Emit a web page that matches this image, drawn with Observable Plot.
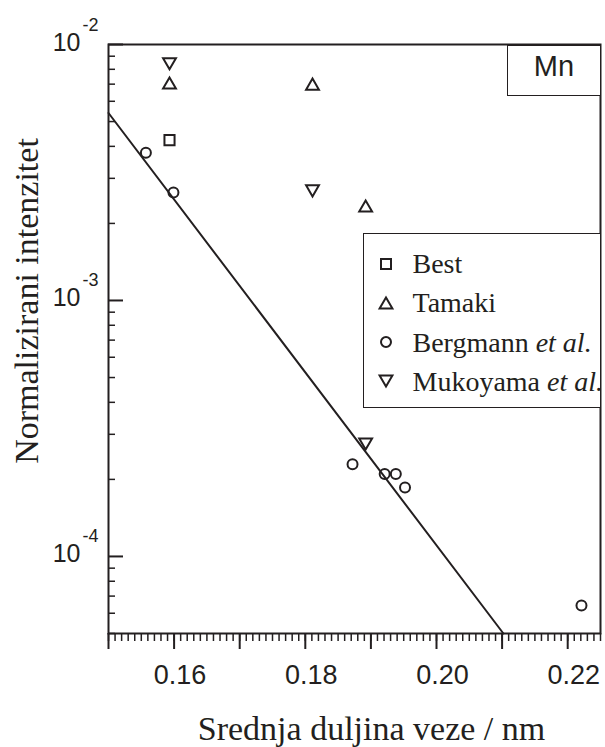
<!DOCTYPE html>
<html><head><meta charset="utf-8">
<script src="https://cdn.jsdelivr.net/npm/d3@7"></script>
<script src="https://cdn.jsdelivr.net/npm/@observablehq/plot@0.6"></script>
<style>
html,body{margin:0;padding:0;background:#fff;}
#wrap{position:relative;width:605px;height:747px;overflow:hidden;}
#wrap svg.plotsvg{position:absolute;left:0;top:0;}
.box{position:absolute;box-sizing:border-box;border:1.5px solid #231f20;background:#fff;color:#231f20;}
</style></head><body><div id="wrap"></div>
<script>
const ink = "#231f20";

// ---- data ----
const bestX = [0.1593];
const bestY = [4.23e-3];
const tamakiX = [0.1593, 0.1811, 0.1892];
const tamakiY = [7.07e-3, 7.0e-3, 2.34e-3];
const bergmannX = [0.1557, 0.1599, 0.1872, 0.1921, 0.1938, 0.1952, 0.2221];
const bergmannY = [3.78e-3, 2.64e-3, 2.29e-4, 2.10e-4, 2.10e-4, 1.86e-4, 6.43e-5];
const mukoyamaX = [0.1593, 0.1811, 0.1892];
const mukoyamaY = [8.41e-3, 2.68e-3, 2.75e-4];
const fitX = [0.15, 0.2102];
const fitY = [5.4e-3, 5.0e-5];

// ---- axes / labels ----
const xDomain = [0.15, 0.225];
const yDomain = [5e-5, 1e-2];
const xTickValues = [0.16, 0.18, 0.20, 0.22];
const xTickLabels = ["0.16", "0.18", "0.20", "0.22"];
const xMajorTicks = [0.15, 0.16, 0.17, 0.18, 0.19, 0.20, 0.21, 0.22];
const xMinorTicks = d3.range(150, 226).map(k => k / 1000);
const yTickValues = [1e-2, 1e-3, 1e-4];
const yTickBase = ["10", "10", "10"];
const yTickExp = ["-2", "-3", "-4"];
const yMinorTicks = [5e-5, 6e-5, 7e-5, 8e-5, 9e-5,
  2e-4, 3e-4, 4e-4, 5e-4, 6e-4, 7e-4, 8e-4, 9e-4,
  2e-3, 3e-3, 4e-3, 5e-3, 6e-3, 7e-3, 8e-3, 9e-3];
const xTitle = "Srednja duljina veze / nm";
const yTitle = "Normalizirani intenzitet";
const elementLabel = "Mn";
const legendMain = ["Best", "Tamaki", "Bergmann", "Mukoyama"];
const legendItalic = ["", "", "et al.", "et al."];

// ---- symbols (bbox-centred triangles) ----
const triUp = {draw(ctx, size) {
  const s = Math.sqrt(size) * 1.45, h = s * 0.866;
  ctx.moveTo(0, -h / 2); ctx.lineTo(s / 2, h / 2); ctx.lineTo(-s / 2, h / 2); ctx.closePath();
}};
const triDown = {draw(ctx, size) {
  const s = Math.sqrt(size) * 1.45, h = s * 0.866;
  ctx.moveTo(0, h / 2); ctx.lineTo(s / 2, -h / 2); ctx.lineTo(-s / 2, -h / 2); ctx.closePath();
}};
const legendSymbols = [d3.symbolSquare, triUp, d3.symbolCircle, triDown];
const legendSizes = [100, 78.5, 78.5, 78.5];

const rows = (xs, ys) => xs.map((x, i) => ({x, y: ys[i]}));
const serif = "'Liberation Serif', 'Times New Roman', Times, serif";
const dotOpts = {x: "x", y: "y", stroke: ink, strokeWidth: 2, fill: "none"};

const chart = Plot.plot({
  width: 605, height: 747,
  marginLeft: 108, marginRight: 5, marginTop: 44, marginBottom: 114,
  style: {background: "transparent", color: ink, fontFamily: "'Liberation Sans', Arial, sans-serif", overflow: "visible"},
  x: {type: "linear", domain: xDomain},
  y: {type: "log", domain: yDomain},
  marks: [
    Plot.line(rows(fitX, fitY), {x: "x", y: "y", stroke: ink, strokeWidth: 2}),
    Plot.dot(rows(bestX, bestY), {...dotOpts, symbol: "square", r: 5.7}),
    Plot.dot(rows(tamakiX, tamakiY), {...dotOpts, symbol: triUp, r: 5}),
    Plot.dot(rows(bergmannX, bergmannY), {...dotOpts, symbol: "circle", r: 5}),
    Plot.dot(rows(mukoyamaX, mukoyamaY), {...dotOpts, symbol: triDown, r: 5}),
    Plot.frame({stroke: ink, strokeWidth: 2}),
    Plot.axisX(xMajorTicks, {anchor: "bottom", tickSize: 16, fill: "none", stroke: ink, strokeWidth: 2}),
    Plot.axisX(xMinorTicks, {anchor: "bottom", tickSize: 8, fill: "none", stroke: ink, strokeWidth: 1.5}),
    Plot.axisY(yTickValues, {anchor: "left", tickSize: 15, dx: 15, fill: "none", stroke: ink, strokeWidth: 2}),
    Plot.axisY(yMinorTicks, {anchor: "left", tickSize: 7, dx: 7, fill: "none", stroke: ink, strokeWidth: 1.5}),
    Plot.text(xTickValues, {x: d => d, text: (d, i) => xTickLabels[i], frameAnchor: "bottom", dx: 6, dy: 50, lineAnchor: "bottom", fontSize: 27, fill: ink}),
    Plot.text(yTickValues, {y: d => d, text: (d, i) => yTickBase[i], frameAnchor: "left", dx: -28, dy: 6, textAnchor: "end", lineAnchor: "bottom", fontSize: 25, fill: ink}),
    Plot.text(yTickValues, {y: d => d, text: (d, i) => yTickExp[i], frameAnchor: "left", dx: -26, dy: -14, textAnchor: "start", lineAnchor: "bottom", fontSize: 18, fill: ink}),
    Plot.text([xTitle], {text: d => d, frameAnchor: "bottom", textAnchor: "middle", dx: 17, dy: 106, lineAnchor: "bottom", fontFamily: serif, fontSize: 34, fill: ink}),
    Plot.text([yTitle], {text: d => d, frameAnchor: "left", textAnchor: "middle", rotate: -90, dx: -71, dy: -38, lineAnchor: "bottom", fontFamily: serif, fontSize: 34, fill: ink})
  ]
});
chart.classList.add("plotsvg");
const wrap = document.getElementById("wrap");
wrap.appendChild(chart);

// ---- element label box ----
const mn = document.createElement("div");
mn.className = "box";
Object.assign(mn.style, {left: "507px", top: "45px", width: "94px", height: "51px"});
const mnText = document.createElement("div");
Object.assign(mnText.style, {position: "absolute", left: "0", top: "6px", width: "100%", textAlign: "center",
  lineHeight: "29px", fontSize: "29px", fontFamily: "'Liberation Sans', Arial, sans-serif"});
mnText.textContent = elementLabel;
mn.appendChild(mnText);
wrap.appendChild(mn);

// ---- legend ----
const lg = document.createElement("div");
lg.className = "box";
Object.assign(lg.style, {left: "363px", top: "233px", width: "238px", height: "175px"});
legendMain.forEach((name, i) => {
  const row = document.createElement("div");
  const center = 29.5 + 39.3 * i;
  Object.assign(row.style, {position: "absolute", left: "0", top: (center - 19.5) + "px", height: "39px", width: "300px",
    lineHeight: "39px", fontSize: "28px", fontFamily: serif, whiteSpace: "nowrap"});
  const svg = d3.create("svg").attr("width", 18).attr("height", 18)
    .style("position", "absolute").style("left", "12.5px").style("top", "10.5px");
  svg.append("path").attr("transform", "translate(9,9)")
    .attr("d", d3.symbol().type(legendSymbols[i]).size(legendSizes[i])())
    .attr("fill", "none").attr("stroke", ink).attr("stroke-width", 2);
  row.appendChild(svg.node());
  const t = document.createElement("span");
  Object.assign(t.style, {position: "absolute", left: "48.5px", top: "0"});
  t.appendChild(document.createTextNode(name));
  if (legendItalic[i]) {
    t.appendChild(document.createTextNode(" "));
    const it = document.createElement("i");
    it.textContent = legendItalic[i];
    t.appendChild(it);
  }
  row.appendChild(t);
  lg.appendChild(row);
});
wrap.appendChild(lg);
</script></body></html>
